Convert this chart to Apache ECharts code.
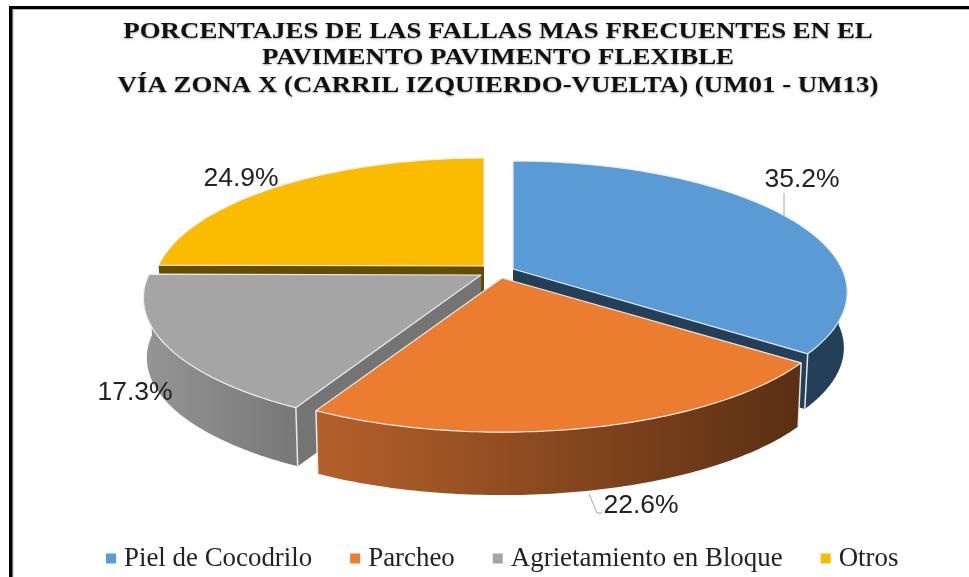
<!DOCTYPE html>
<html><head><meta charset="utf-8">
<style>html,body{margin:0;padding:0;background:#fff}#c{width:969px;height:577px}</style>
<script src="https://cdn.jsdelivr.net/npm/echarts@6/dist/echarts.min.js"></script>
</head><body><div id="c"></div>
<script>
var titleLines = ['PORCENTAJES DE LAS FALLAS MAS FRECUENTES EN EL','PAVIMENTO PAVIMENTO FLEXIBLE','VÍA ZONA X (CARRIL IZQUIERDO-VUELTA) (UM01 - UM13)'];
var categories = ['Piel de Cocodrilo','Parcheo','Agrietamiento en Bloque','Otros'];
var values = [35.2,22.6,17.3,24.9];
var colors = ['#5B9BD5','#EC7C30','#A5A5A5','#FBBC00'];

// projection of the tilted pie
var R = 329, Ry = 127, K = 0.176, BOTTOM = 0.99;
var looks = [
 {ax:513,ay:269,r:1,depth:56,wall:'#243f58',side:['#243f58','#243f58'],lx:802,ly:180},
 {ax:502,ay:278,r:1.015,depth:64.5,wall:'#5e3014',side:['#b5602a','#5a2f13'],lx:641,ly:506},
 {ax:481,ay:275,r:1.01,depth:60,wall:'#747474',side:['#959595','#787878'],lx:135,ly:393},
 {ax:484,ay:266,r:0.99,depth:50,wall:'#654d00',side:['#997300','#654d00'],lx:241,ly:179}
];
var total = values.reduce(function(a,b){return a+b;},0);
function proj(l,t,bottom){
  var X=Math.sin(t),Y=Math.cos(t),d=1+K*Y,s=bottom?BOTTOM:1;
  return [l.ax+s*l.r*R*X/d, l.ay-s*Ry*Y/d+(bottom?l.depth:0)];
}
function arc(l,a,b,bottom){
  var pts=[],n=90;
  for(var i=0;i<=n;i++) pts.push(proj(l,a+(b-a)*i/n,bottom));
  return pts;
}
function renderSlice(idx){
  return function(params,api){
    var before=0; for(var i=0;i<idx;i++) before+=values[i];
    var a=before/total*2*Math.PI, b=(before+api.value(0))/total*2*Math.PI;
    var l=looks[idx];
    var top=arc(l,a,b,false);
    var apex=[l.ax,l.ay], apexLow=[l.ax,l.ay+l.depth];
    var edge='rgba(235,240,245,0.95)';
    var ch=[];
    function wall(t){
      ch.push({type:'polygon',shape:{points:[apex,proj(l,t,false),proj(l,t,true),apexLow]},
        style:{fill:l.wall,stroke:null}});
    }
    wall(a); wall(b);
    var sa=Math.max(a,Math.PI/2), sb=Math.min(b,Math.PI*1.5);
    if(sb>sa){
      var t2=arc(l,sa,sb,false), l2=arc(l,sa,sb,true);
      var xs=t2.map(function(p){return p[0];});
      var minX=Math.min.apply(null,xs),maxX=Math.max.apply(null,xs);
      ch.push({type:'polygon',shape:{points:t2.concat(l2.reverse())},
        style:{fill:{type:'linear',x:minX,y:0,x2:maxX,y2:0,global:true,
          colorStops:[{offset:0,color:l.side[0]},{offset:1,color:l.side[1]}]},stroke:null}});
      [a,b].forEach(function(t){
        if(t>=Math.PI/2&&t<=Math.PI*1.5) ch.push({type:'line',shape:{x1:proj(l,t,false)[0],y1:proj(l,t,false)[1],x2:proj(l,t,true)[0],y2:proj(l,t,true)[1]},style:{stroke:edge,lineWidth:1.5}});
      });
    }
    ch.push({type:'polygon',shape:{points:[apex].concat(top)},
      style:{fill:colors[idx],stroke:edge,lineWidth:1.2,lineJoin:'round'}});
    ch.push({type:'text',style:{x:l.lx,y:l.ly,text:api.value(0).toFixed(1)+'%',
      font:'26.5px "Liberation Sans"',fill:'#222',align:'center',verticalAlign:'middle'}});
    return {type:'group',children:ch};
  };
}
var order=[3,0,2,1];
var series=order.map(function(i,z){
  return {type:'custom',name:categories[i],coordinateSystem:'none',z:2+z,
    itemStyle:{color:colors[i]},data:[[values[i]]],renderItem:renderSlice(i),silent:true};
});
var titleY=[32,58,86];
var titleGraphics=titleLines.map(function(t,i){
  return {type:'text',z:20,x:498,y:titleY[i],scaleX:1.12,
    style:{text:t,font:'bold 24px "Liberation Serif"',fill:'#111',align:'center',verticalAlign:'middle',
      textShadowColor:'rgba(0,0,0,0.35)',textShadowBlur:2,textShadowOffsetY:1}};
});
var chart=echarts.init(document.getElementById('c'),null,{renderer:'canvas'});
chart.setOption({
  animation:false,backgroundColor:'#fff',
  legend:{data:categories,left:101,top:540,icon:'rect',itemWidth:10,itemHeight:10,itemGap:38,
    textStyle:{fontFamily:'Liberation Serif',fontSize:26.9,color:'#222',padding:[0,0,0,3]},selectedMode:false},
  graphic:titleGraphics.concat([
    {type:'line',z:20,shape:{x1:10.75,y1:6,x2:10.75,y2:577},style:{stroke:'#000',lineWidth:3.5}},
    {type:'line',z:20,shape:{x1:9,y1:7.5,x2:969,y2:7.5},style:{stroke:'#000',lineWidth:3}},
    {type:'line',z:19,shape:{x1:13,y1:9.5,x2:969,y2:9.5},style:{stroke:'#bbb',lineWidth:1}},
    {type:'line',z:19,shape:{x1:13,y1:9.5,x2:13,y2:577},style:{stroke:'#bbb',lineWidth:1}},
    {type:'polyline',z:20,shape:{points:[[784,193],[784,216]]},style:{stroke:'#a6a6a6',lineWidth:1,fill:null}},
    {type:'polyline',z:20,shape:{points:[[589,494],[597,513],[602,513]]},style:{stroke:'#a6a6a6',lineWidth:1,fill:null}}
  ]),
  series:series
});
</script></body></html>
